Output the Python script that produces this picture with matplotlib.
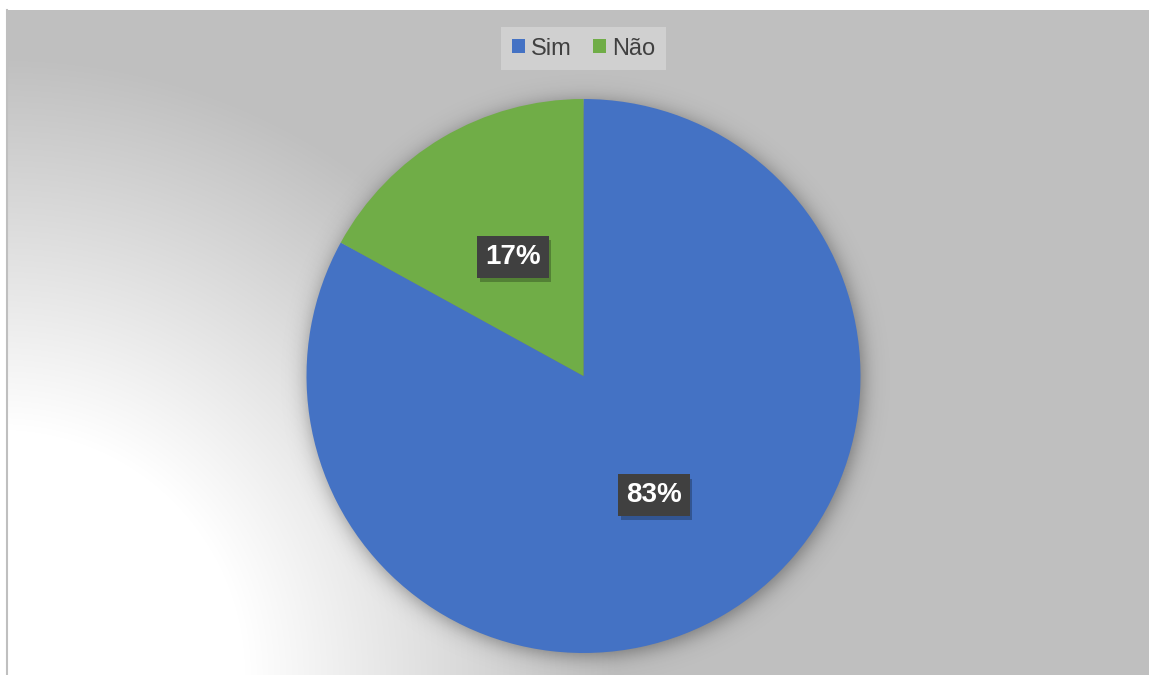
import numpy as np
import matplotlib
matplotlib.use("Agg")
import matplotlib.pyplot as plt
import matplotlib.patheffects as pe
from matplotlib.patches import Patch

labels = ['Sim', 'Não']
values = [83, 17]
colors = ['#4472C4', '#70AD47']

W, H = 1149, 675
plt.rcParams['font.family'] = ['Liberation Sans', 'DejaVu Sans']

fig = plt.figure(figsize=(W / 100, H / 100), dpi=100)
fig.patch.set_facecolor('white')
ax = fig.add_axes([0, 0, 1, 1])

# radial grey gradient, white in the lower left corner
x0, top = 7, 10
xs = np.arange(x0, W) + 0.5
ys = np.arange(top, H) + 0.5
gx, gy = np.meshgrid(xs, ys)
r = np.hypot(gx, H - gy)
t = np.clip((r - 245) / (620 - 245), 0, 1)
grey = 255 - t * (255 - 191)
bg = np.dstack([grey, grey, grey]) / 255
ax.imshow(bg, extent=(x0, W, 0, H - top), origin='upper', zorder=0, aspect='auto')
ax.plot([x0, x0], [0, H - top], color='#bfbfbf', lw=1.5, zorder=1)

# soft shadow under the pie
cx, cy, rad = 583.5, 376, 277
d = np.hypot(gx - (cx + 2), gy - (cy + 3))
alpha = 0.4 / (1 + np.exp((d - rad) / 6))
shadow = np.zeros((len(ys), len(xs), 4))
shadow[..., 3] = alpha
ax.imshow(shadow, extent=(x0, W, 0, H - top), origin='upper', zorder=2, aspect='auto')

wedges, texts, autotexts = ax.pie(
    values, colors=colors, startangle=90, counterclock=False,
    center=(cx, H - cy), radius=rad, autopct='%.0f%%', pctdistance=0.5,
    wedgeprops=dict(linewidth=0),
    textprops=dict(color='white', fontsize=20, fontweight='bold'))
for w in wedges:
    w.set_zorder(3)
for a in autotexts:
    a.set_zorder(5)
    a.set_bbox(dict(boxstyle='square,pad=0.28', facecolor='#404040', edgecolor='none'))
    a.get_bbox_patch().set_path_effects([
        pe.SimplePatchShadow(offset=(2, -3), shadow_rgbFace='black', alpha=0.25),
        pe.Normal()])

handles = [Patch(facecolor=c, edgecolor='none') for c in colors]
leg = fig.legend(handles, labels, loc='upper center', bbox_to_anchor=(cx / W, 1 - 27 / H),
                 ncol=2, frameon=True, fancybox=False, fontsize=17,
                 handlelength=0.55, handleheight=0.55, handletextpad=0.25,
                 columnspacing=0.9, borderpad=0.45, borderaxespad=0)
leg.get_frame().set_facecolor('#d0d0d0')
leg.get_frame().set_edgecolor('none')
leg.get_frame().set_alpha(1)
for txt in leg.get_texts():
    txt.set_color('#404040')

ax.set_xlim(0, W)
ax.set_ylim(0, H)
ax.set_aspect('auto')
ax.axis('off')

fig.savefig('out.png', dpi=100)
